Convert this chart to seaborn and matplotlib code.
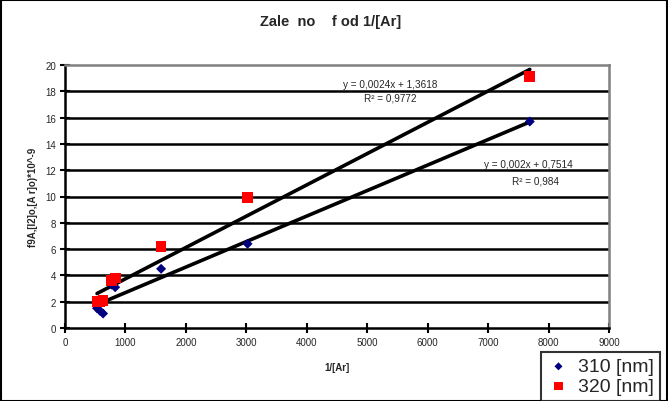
import numpy as np
import pandas as pd
import matplotlib
matplotlib.use("Agg")
import matplotlib.pyplot as plt
import seaborn as sns
from matplotlib.patches import Rectangle

# ---- data ----
inv_ar = [7690, 3020, 1590, 830, 770, 630, 580, 530]
y310 = [15.7, 6.4, 4.5, 3.1, 3.3, 1.1, 1.3, 1.5]
y320 = [19.1, 9.9, 6.2, 3.8, 3.6, 2.1, 2.0, 2.0]
series_names = ["310 [nm]", "320 [nm]"]
fit_slope = [0.00194, 0.00238]
fit_icpt = [0.7514, 1.3618]
fit_eq = ["y = 0,002x + 0,7514", "y = 0,0024x + 1,3618"]
fit_r2 = ["R² = 0,984", "R² = 0,9772"]
x_ticks = [0, 1000, 2000, 3000, 4000, 5000, 6000, 7000, 8000, 9000]
y_ticks = [0, 2, 4, 6, 8, 10, 12, 14, 16, 18, 20]
title = "Zale  no    f od 1/[Ar]"
xlabel = "1/[Ar]"
ylabel = "f9A,[I2]o,[A r]o)*10^-9"

sns.set_theme(style="white")
plt.rcParams['font.family'] = ['Liberation Sans', 'DejaVu Sans']

fig = plt.figure(figsize=(6.68, 4.02), dpi=100)
ax = fig.add_axes([65/668, 1-329/402, (609-65)/668, (329-66)/402])

df = pd.DataFrame({"x": inv_ar * 2,
                   "y": y310 + y320,
                   "s": [series_names[0]] * len(inv_ar) + [series_names[1]] * len(inv_ar)})

# gridlines
for yt in y_ticks[1:-1]:
    ax.axhline(yt, color="black", lw=1.8, zorder=1)

# trend lines
for i in range(2):
    xr = np.array([min(inv_ar), max(inv_ar)])
    sns.lineplot(x=xr, y=fit_slope[i] * xr + fit_icpt[i], ax=ax, color="black",
                 lw=2.6, zorder=3, legend=False)

# points
d310 = df[df["s"] == series_names[0]]
d320 = df[df["s"] == series_names[1]]
sns.scatterplot(data=d310, x="x", y="y", marker="D", s=26, color="#000080",
                edgecolor="none", zorder=4, ax=ax, label=series_names[0], legend=False)
sns.scatterplot(data=d320, x="x", y="y", marker="s", s=60, color="#FF0000",
                edgecolor="none", zorder=4, ax=ax, label=series_names[1], legend=False)

ax.set_xlim(0, 9000)
ax.set_ylim(0, 20)
ax.set_xticks(x_ticks)
ax.set_yticks(y_ticks)
ax.tick_params(axis="both", labelsize=7, direction="inout", length=7, width=1.5,
               color="black", left=True, bottom=True, pad=3)
ax.set_xlabel(xlabel, fontsize=7, fontweight="bold", labelpad=11)
ax.set_ylabel(ylabel, fontsize=7, fontweight="bold", labelpad=5)
ax.grid(False)
for side in ["left", "bottom"]:
    ax.spines[side].set_color("black")
    ax.spines[side].set_linewidth(1.8)
for side in ["top", "right"]:
    ax.spines[side].set_color("#808080")
    ax.spines[side].set_linewidth(1.8)

def px(xp, yp):
    return (xp / 668, 1 - yp / 402)

fig.text(*px(390, 85), fit_eq[1], fontsize=7.2, ha="center", va="center")
fig.text(*px(390, 99), fit_r2[1], fontsize=7.2, ha="center", va="center")
fig.text(*px(528, 165), fit_eq[0], fontsize=7.2, ha="center", va="center")
fig.text(*px(536, 182), fit_r2[0], fontsize=7.2, ha="center", va="center")

fig.text(*px(331, 22), title, fontsize=10.5, fontweight="bold", ha="center", va="center")

# legend
handles = ax.collections[-2:]
leg = fig.legend(handles=handles, labels=series_names,
                 loc="upper left", bbox_to_anchor=(541/668, 1 - 353/402),
                 fontsize=14, frameon=True, fancybox=False, handlelength=1.2,
                 handletextpad=0.4, borderpad=0.3, labelspacing=0.1,
                 markerscale=0.8, borderaxespad=0)
leg.get_frame().set_edgecolor("black")
leg.get_frame().set_linewidth(1.5)

# figure border
fig.patches.append(Rectangle((0.001, 0.001), 0.997, 0.996, transform=fig.transFigure,
                             fill=False, edgecolor="black", lw=1.5))

fig.savefig("out.png", dpi=100)
